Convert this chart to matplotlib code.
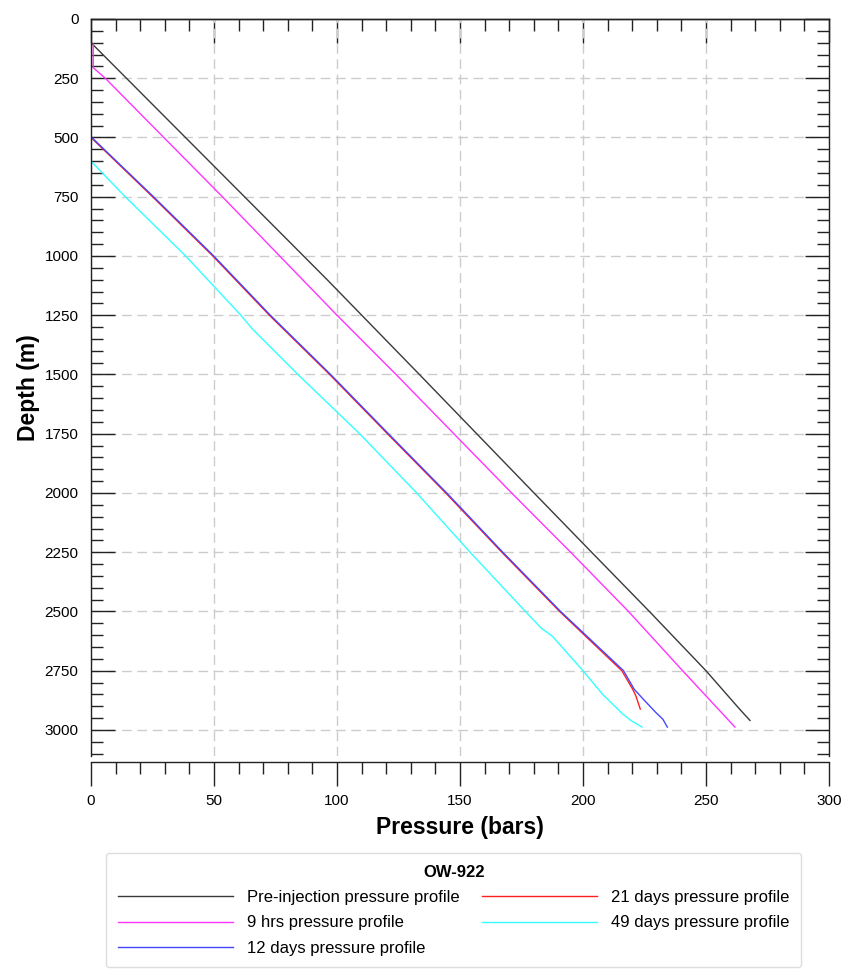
import matplotlib.pyplot as plt
from matplotlib.ticker import MultipleLocator

plt.rcParams['font.family'] = ['Liberation Sans', 'DejaVu Sans']

# Perfis de pressao (pressao em bar, profundidade em m)
pre_p = [0, 96.0, 133.5, 180.1, 203.5, 227.0, 250.0, 263.5, 267.9]
pre_d = [100, 1100, 1500, 2000, 2250, 2500, 2750, 2910, 2960]

hrs9_p = [0.9, 0.9, 5.8, 53.4, 100.0, 124.0, 147.5, 171.0, 195.0, 218.5, 240.5, 261.8]
hrs9_d = [106, 205, 250, 750, 1250, 1500, 1750, 2000, 2250, 2500, 2750, 2988]

d12_p = [0.3, 25.4, 49.9, 72.9, 97.4, 120.9, 144.6, 167.4, 190.9, 216.5, 220.8, 224.5, 229.5, 232.5, 234.3]
d12_d = [500, 750, 1000, 1250, 1500, 1750, 2000, 2250, 2500, 2750, 2828, 2870, 2925, 2955, 2988]

d21_p = [0.0, 25.0, 49.5, 72.5, 97.0, 120.5, 144.2, 167.0, 190.5, 215.8, 220.2, 221.5, 223.3]
d21_d = [500, 750, 1000, 1250, 1500, 1750, 2000, 2250, 2500, 2750, 2828, 2856, 2912]

d49_p = [0, 0, 13.9, 38.5, 60.9, 65.6, 84.1, 109.2, 132.4, 154.1, 176.6, 183.0, 187.5, 200.0, 208.0, 216.1, 219.5, 224.0]
d49_d = [100, 600, 750, 1000, 1250, 1308, 1500, 1750, 2000, 2250, 2500, 2570, 2604, 2750, 2850, 2932, 2960, 2988]

fig = plt.figure(figsize=(8.45, 9.69), dpi=100)
ax = fig.add_axes([0.1077, 0.2198, 0.8733, 0.7606])

ax.plot(pre_p, pre_d, color='#3a3a3a', lw=1.0, label='Pre-injection pressure profile')
ax.plot(hrs9_p, hrs9_d, color='#ff33ff', lw=1.0, label='9 hrs pressure profile')
ax.plot(d49_p, d49_d, color='#33ffff', lw=1.0, label='49 days pressure profile')
ax.plot(d21_p, d21_d, color='#ff2020', lw=1.0, label='21 days pressure profile')
ax.plot(d12_p, d12_d, color='#4646ff', lw=1.0, label='12 days pressure profile')

ax.set_xlim(0, 300)
ax.set_ylim(3110, 0)
ax.xaxis.set_major_locator(MultipleLocator(50))
ax.xaxis.set_minor_locator(MultipleLocator(10))
ax.yaxis.set_major_locator(MultipleLocator(250))
ax.yaxis.set_minor_locator(MultipleLocator(50))

ax.grid(True, which='major', color='#cccccc', linestyle=(0, (7, 4)), lw=1.0)
ax.set_axisbelow(True)

ax.spines['bottom'].set_position(('outward', 4))
for s in ax.spines.values():
    s.set_linewidth(1.0)
    s.set_color('#222222')

ax.tick_params(axis='y', which='both', direction='in', left=True, right=True, pad=9, labelsize=11)
ax.tick_params(axis='x', which='both', direction='out', bottom=True, pad=6, labelsize=11)
ax.tick_params(which='major', length=17, width=1.0, color='#222222')
ax.tick_params(which='minor', length=8.5, width=1.0, color='#222222')
ax.tick_params(axis='x', which='both', top=False)

# ticks internos no topo
top = ax.secondary_xaxis('top')
top.xaxis.set_major_locator(MultipleLocator(50))
top.xaxis.set_minor_locator(MultipleLocator(10))
top.tick_params(which='both', direction='in', labeltop=False, color='#222222', width=1.0)
top.tick_params(which='major', length=17)
top.tick_params(which='minor', length=8.5)
top.spines['top'].set_linewidth(1.0)
top.spines['top'].set_color('#222222')

ax.set_xlabel('Pressure (bars)', fontsize=16.5, fontweight='bold', labelpad=6)
ax.set_ylabel('Depth (m)', fontsize=16.5, fontweight='bold', labelpad=3)

handles, labels = ax.get_legend_handles_labels()
order = [0, 1, 4, 3, 2]
leg = fig.legend([handles[i] for i in order], [labels[i] for i in order],
                 loc='upper center', bbox_to_anchor=(0.537, 0.1197), ncol=2,
                 title='OW-922', fontsize=12, handlelength=6.9, handletextpad=0.84,
                 columnspacing=1.38, labelspacing=0.62, borderpad=0.7, borderaxespad=0,
                 frameon=True, fancybox=True, edgecolor='#dddddd', framealpha=1)
leg.get_title().set_fontweight('bold')
leg.get_title().set_fontsize(12)

fig.savefig('out.png', dpi=100)
